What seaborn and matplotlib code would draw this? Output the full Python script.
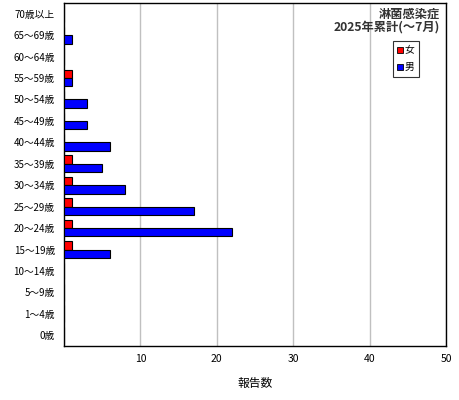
import pandas as pd
import matplotlib
matplotlib.use("Agg")
import matplotlib.pyplot as plt
import seaborn as sns
from matplotlib.patches import Patch

ages = ["70歳以上", "65～69歳", "60～64歳", "55～59歳", "50～54歳", "45～49歳",
        "40～44歳", "35～39歳", "30～34歳", "25～29歳", "20～24歳", "15～19歳",
        "10～14歳", "5～9歳", "1～4歳", "0歳"]
female = [0, 0, 0, 1, 0, 0, 0, 1, 1, 1, 1, 1, 0, 0, 0, 0]
male = [0, 1, 0, 1, 3, 3, 6, 5, 8, 17, 22, 6, 0, 0, 0, 0]
sexes = ["女", "男"]
colors = {"女": "#ff0000", "男": "#0000ff"}

sns.set_style("white")
plt.rcParams["font.family"] = ["Noto Sans CJK JP", "DejaVu Sans"]
plt.rcParams["font.size"] = 7
plt.rcParams["text.color"] = "black"
plt.rcParams["axes.labelcolor"] = "black"
plt.rcParams["xtick.color"] = "black"
plt.rcParams["ytick.color"] = "black"

df = pd.DataFrame({
    "age": ages * 2,
    "sex": ["女"] * len(ages) + ["男"] * len(ages),
    "count": female + male,
})

fig = plt.figure(figsize=(4.6, 4.0), dpi=100)
ax = fig.add_axes([64 / 460, 1 - 346 / 400, 382 / 460, 343 / 400])

sns.barplot(data=df, x="count", y="age", hue="sex", order=ages, hue_order=sexes,
            palette=colors, saturation=1, orient="h", width=0.78,
            edgecolor="black", linewidth=0.8, legend=False, ax=ax, zorder=3)

ax.set_xlim(0, 50)
ax.set_ylim(len(ages) - 0.5, -0.5)
ax.set_xticks([10, 20, 30, 40, 50])
ax.grid(axis="x", color="#c0c0c0", linewidth=1, zorder=0)
ax.grid(axis="y", visible=False)
ax.set_xlabel("報告数", fontsize=8.5, labelpad=9)
ax.set_ylabel("")
ax.set_yticks(range(len(ages)))
ax.set_yticks([i + 0.5 for i in range(len(ages) - 1)], minor=True)
ax.tick_params(axis="y", which="major", length=0, pad=6.5, labelsize=7)
ax.tick_params(axis="y", which="minor", length=3, direction="in", width=0.8)
ax.tick_params(axis="x", length=3, width=0.8, pad=3, labelsize=7.5)
for s in ax.spines.values():
    s.set_color("black")
    s.set_linewidth(1)

ax.text(0.985, 0.985, "淋菌感染症\n2025年累計(～7月)", transform=ax.transAxes,
        ha="right", va="top", fontsize=8.8, fontweight="bold", color="#333333",
        linespacing=0.95)

handles = [Patch(facecolor=colors[s], edgecolor="black", linewidth=0.6) for s in sexes]
leg = ax.legend(handles, sexes, loc="upper right", bbox_to_anchor=(0.929, 0.889),
                frameon=True, fancybox=False, edgecolor="black", handlelength=0.6,
                handleheight=0.6, handletextpad=0.15, labelspacing=0.7,
                borderpad=0.45, borderaxespad=0, fontsize=7)
leg.get_frame().set_linewidth(0.8)

fig.savefig("out.png", dpi=100)
